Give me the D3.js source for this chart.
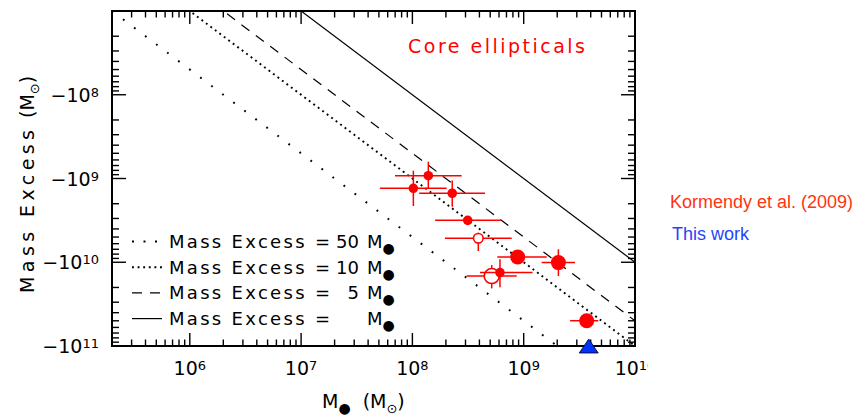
<!DOCTYPE html>
<html>
<head>
<meta charset="utf-8">
<script src="https://cdn.jsdelivr.net/npm/d3@7"></script>
<style>
body { margin: 0; background: #fff; }
svg text { font-family: "DejaVu Sans", sans-serif; }
</style>
</head>
<body>
<svg width="857" height="419"></svg>
<script>
// Kormendy et al. (2009) core ellipticals: black hole mass and mass excess (magnitude)
const mbh      = [1.39e8, 1.02e8, 2.28e8, 3.14e8, 3.91e8, 8.83e8, 2.05e9, 5.16e8, 6.12e8, 3.68e9];
const mbhLo    = [6.98e7, 5.10e7, 1.15e8, 1.60e8, 1.96e8, 5.79e8, 1.45e9, 3.07e8, 4.05e8, 2.61e9];
const mbhHi    = [2.77e8, 2.03e8, 4.49e8, 6.21e8, 7.80e8, 1.61e9, 2.89e9, 8.65e8, 1.20e9, 4.68e9];
const excess   = [9.26e8, 1.31e9, 1.50e9, 3.16e9, 5.18e9, 8.65e9, 1.01e10, 1.46e10, 1.33e10, 4.99e10];
const excessLo = [6.30e8, 8.07e8, 1.06e9, 3.16e9, 4.44e9, 8.65e9, 7.00e9, 1.08e10, 9.20e9, 4.99e10];
const excessHi = [1.31e9, 2.13e9, 2.17e9, 3.16e9, 7.34e9, 8.65e9, 1.46e10, 2.05e10, 1.99e10, 4.99e10];
const isOpen   = [false, false, false, false, true, false, false, true, false, false];
const isBig    = [false, false, false, false, false, true, true, true, false, true];

// this work
const thisMbh = [3.84e9];
const thisExcess = [1e11];

// lines: mass excess = ratio * M_bh
const ratios = [50, 10, 5, 1];

const xTickExp = [6, 7, 8, 9, 10];
const yTickExp = [8, 9, 10, 11];

const red = "#ff0000";
const dashes = {50: "1.8,12", 10: "1.9,3.7", 5: "10,8", 1: null};
const widths = {50: 2, 10: 1.9, 5: 1.2, 1: 1.2};

const svg = d3.select("svg");
const x = d3.scaleLog().domain([2e5, 1e10]).range([112, 635]);
const y = d3.scaleLog().domain([1e7, 1e11]).range([11, 346]);

const defs = svg.append("defs");
defs.append("clipPath").attr("id", "cut")
  .append("rect").attr("x", 0).attr("y", 0).attr("width", 648).attr("height", 419);
defs.append("clipPath").attr("id", "plot")
  .append("rect").attr("x", x.range()[0]).attr("y", y.range()[0])
  .attr("width", x.range()[1] - x.range()[0]).attr("height", y.range()[1] - y.range()[0]);

const chart = svg.append("g").attr("clip-path", "url(#cut)");
const inner = chart.append("g").attr("clip-path", "url(#plot)");

// ratio lines
ratios.forEach(r => {
  const x0 = x.domain()[0], x1 = x.domain()[1];
  inner.append("line")
    .attr("x1", x(x0)).attr("y1", y(r * x0))
    .attr("x2", x(x1)).attr("y2", y(r * x1))
    .attr("stroke", "#000")
    .attr("stroke-width", widths[r])
    .attr("stroke-dasharray", dashes[r]);
});

// data points with error bars
mbh.forEach((m, i) => {
  const g = inner.append("g");
  g.append("line")
    .attr("x1", x(mbhLo[i])).attr("x2", x(mbhHi[i]))
    .attr("y1", y(excess[i])).attr("y2", y(excess[i]))
    .attr("stroke", red).attr("stroke-width", 1.5);
  g.append("line")
    .attr("x1", x(m)).attr("x2", x(m))
    .attr("y1", y(excessLo[i])).attr("y2", y(excessHi[i]))
    .attr("stroke", red).attr("stroke-width", 1.5);
  g.append("circle")
    .attr("cx", x(m)).attr("cy", y(excess[i]))
    .attr("r", isBig[i] ? 7.5 : 4.8)
    .attr("fill", isOpen[i] ? "#fff" : red)
    .attr("stroke", red)
    .attr("stroke-width", isOpen[i] ? 1.6 : 0);
});

// ticks
const xTicks = [], yTicks = [];
for (let e = 5; e <= 10; e++) for (let k = 1; k <= 9; k++) {
  const v = k * Math.pow(10, e);
  if (v >= x.domain()[0] * 0.999 && v <= x.domain()[1] * 1.001) xTicks.push({v, major: k === 1});
}
for (let e = 7; e <= 11; e++) for (let k = 1; k <= 9; k++) {
  const v = k * Math.pow(10, e);
  if (v >= y.domain()[0] * 0.999 && v <= y.domain()[1] * 1.001) yTicks.push({v, major: k === 1});
}
const [xl, xr] = x.range(), [yt, yb] = y.range();
const tk = chart.append("g").attr("stroke", "#000").attr("stroke-width", 1.4);
xTicks.forEach(t => {
  const len = t.major ? 13 : 6.5;
  tk.append("line").attr("x1", x(t.v)).attr("x2", x(t.v)).attr("y1", yb).attr("y2", yb - len);
  tk.append("line").attr("x1", x(t.v)).attr("x2", x(t.v)).attr("y1", yt).attr("y2", yt + len);
});
yTicks.forEach(t => {
  const len = t.major ? 14 : 7;
  tk.append("line").attr("y1", y(t.v)).attr("y2", y(t.v)).attr("x1", xl).attr("x2", xl + len);
  tk.append("line").attr("y1", y(t.v)).attr("y2", y(t.v)).attr("x1", xr).attr("x2", xr - len);
});

// frame
chart.append("rect")
  .attr("x", xl).attr("y", yt).attr("width", xr - xl).attr("height", yb - yt)
  .attr("fill", "none").attr("stroke", "#000").attr("stroke-width", 2);

// tick labels
xTickExp.forEach(e => {
  const t = chart.append("text")
    .attr("x", x(Math.pow(10, e))).attr("y", 375)
    .attr("text-anchor", "middle").attr("font-size", 19);
  t.append("tspan").text("10");
  t.append("tspan").attr("dy", -5).attr("font-size", 13).text(e);
});
yTickExp.forEach(e => {
  const t = chart.append("text")
    .attr("x", 99).attr("y", y(Math.pow(10, e)) + 7)
    .attr("text-anchor", "end").attr("font-size", 19);
  t.append("tspan").text("\u221210");
  t.append("tspan").attr("dy", -5).attr("font-size", 13).text(e);
});

// axis titles
const yt1 = chart.append("text")
  .attr("transform", "translate(34,293) rotate(-90)")
  .attr("font-size", 19);
yt1.append("tspan").attr("textLength", 163).text("Mass Excess");
const yt2 = chart.append("text")
  .attr("transform", "translate(34,118) rotate(-90)")
  .attr("font-size", 19);
yt2.append("tspan").text("(M");
yt2.append("tspan").attr("dy", 5).attr("font-size", 13).text("\u2299");
yt2.append("tspan").attr("dy", -5).text(")");

const xt = chart.append("text").attr("x", 322).attr("y", 408).attr("font-size", 19);
xt.append("tspan").text("M");
xt.append("tspan").attr("dy", 5).attr("font-size", 14).text("\u25CF");
xt.append("tspan").attr("dy", -5).attr("dx", 12).text("(M");
xt.append("tspan").attr("dy", 5).attr("font-size", 13).text("\u2299");
xt.append("tspan").attr("dy", -5).text(")");

// legend
ratios.forEach((r, i) => {
  const base = 248 + i * 25.7;
  const mid = base - 6.5;
  chart.append("line")
    .attr("x1", 132).attr("x2", 162).attr("y1", mid).attr("y2", mid)
    .attr("stroke", "#000")
    .attr("stroke-width", widths[r])
    .attr("stroke-dasharray", r === 50 ? "2,9.5" : dashes[r]);
  chart.append("text").attr("x", 169).attr("y", base).attr("font-size", 18)
    .attr("textLength", 161).attr("lengthAdjust", "spacing")
    .text("Mass Excess =");
  chart.append("text").attr("x", 359).attr("y", base).attr("font-size", 18)
    .attr("text-anchor", "end").text(r === 1 ? "" : r);
  const m = chart.append("text").attr("x", 367).attr("y", base).attr("font-size", 18);
  m.append("tspan").text("M");
  m.append("tspan").attr("dy", 5).attr("font-size", 14).text("\u25CF");
});

chart.append("text")
  .attr("x", 408).attr("y", 53).attr("font-size", 19)
  .attr("fill", red).attr("textLength", 177).attr("lengthAdjust", "spacing")
  .text("Core ellipticals");

// this work marker
thisMbh.forEach((m, i) => {
  chart.append("path")
    .attr("transform", `translate(${x(m)},${y(thisExcess[i])})`)
    .attr("d", "M0,-7L9.5,7L-9.5,7Z")
    .attr("fill", "#0033ff").attr("stroke", "#000").attr("stroke-width", 0.8);
});

// side labels
svg.append("text").attr("x", 670).attr("y", 208)
  .style("font-family", "'Liberation Sans', Arial, sans-serif").attr("font-size", 18)
  .attr("fill", "#ff3311").text("Kormendy et al. (2009)");
svg.append("text").attr("x", 672).attr("y", 240)
  .style("font-family", "'Liberation Sans', Arial, sans-serif").attr("font-size", 18)
  .attr("fill", "#1f45fc").text("This work");
</script>
</body>
</html>
